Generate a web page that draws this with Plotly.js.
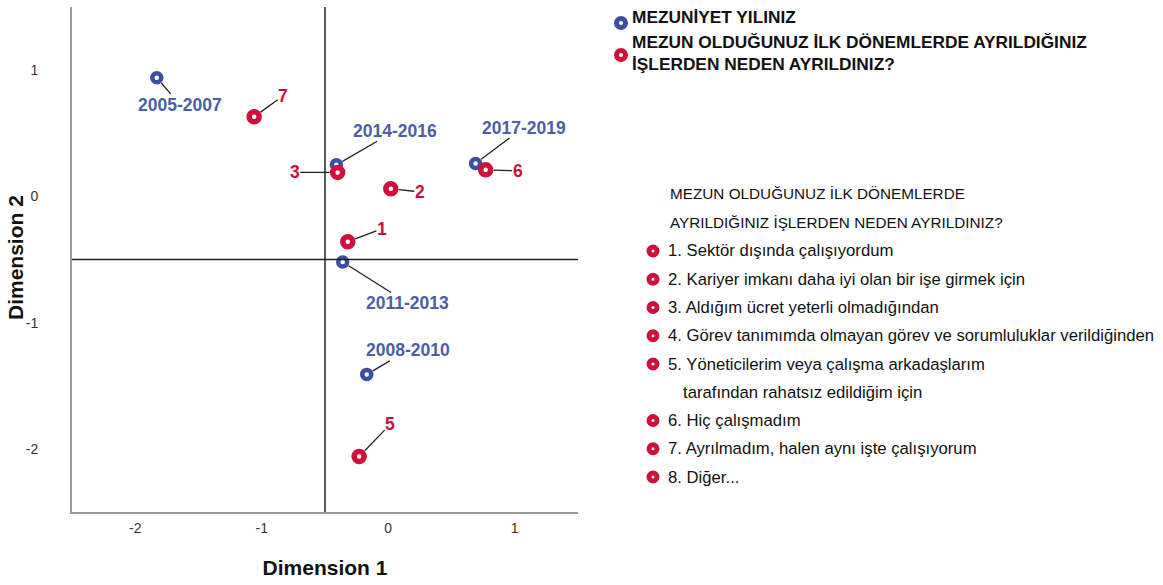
<!DOCTYPE html>
<html><head><meta charset="utf-8">
<script src="https://cdn.plot.ly/plotly-3.0.1.min.js"></script>
<style>html,body{margin:0;padding:0;background:#fff}#chart{width:1163px;height:585px}</style>
</head><body><div id="chart"></div>
<script>
// Blue series: graduation year groups
const yearLabels = ["2005-2007", "2014-2016", "2017-2019", "2011-2013", "2008-2010"];
const yearX = [-1.83, -0.41, 0.69, -0.36, -0.17];
const yearY = [0.94, 0.25, 0.26, -0.52, -1.41];
// Red series: reasons for leaving (categories 4 and 8 not plotted)
const reasonLabels = ["1", "2", "3", "5", "6", "7"];
const reasonX = [-0.32, 0.02, -0.40, -0.23, 0.77, -1.06];
const reasonY = [-0.36, 0.06, 0.19, -2.06, 0.21, 0.63];
// Label offsets (px) for leader lines
const yearOff = [[23, 27], [59, -34], [48, -36], [65, 41], [41, -24]];
const reasonOff = [[34, -13], [29, 3], [-43, 0], [31, -32], [32, 1], [29, -21]];

const tickVals = [-2, -1, 0, 1];
const tickText = ["-2", "-1", "0", "1"];

const seriesNames = ["MEZUNİYET YILINIZ", "MEZUN OLDUĞUNUZ İLK DÖNEMLERDE AYRILDIĞINIZ<br>İŞLERDEN NEDEN AYRILDINIZ?"];
const listTitle = ["MEZUN OLDUĞUNUZ İLK DÖNEMLERDE", "AYRILDIĞINIZ İŞLERDEN NEDEN AYRILDINIZ?"];
const listItems = [
  "1. Sektör dışında çalışıyordum",
  "2. Kariyer imkanı daha iyi olan bir işe girmek için",
  "3. Aldığım ücret yeterli olmadığından",
  "4. Görev tanımımda olmayan görev ve sorumluluklar verildiğinden",
  "5. Yöneticilerim veya çalışma arkadaşlarım",
  "6. Hiç çalışmadım",
  "7. Ayrılmadım, halen aynı işte çalışıyorum",
  "8. Diğer..."
];
const listItem5Cont = "tarafından rahatsız edildiğim için";
const listRows = [0, 1, 2, 3, 4, 6, 7, 8];

const BLUE = "#3d4fa2", RED = "#d0103c", BLUE_T = "#4a5fa5", RED_T = "#c8103a";
const FONT = "Liberation Sans, Arial, sans-serif";
const W = 1163, H = 585, L = 72, R = 10, T = 7, B = 73;
const PW = W - L - R, PH = H - T - B;
const plotW = 506;
const px = v => (v - L) / PW;
const py = v => (H - B - v) / PH;

const traces = [
  {x: yearX, y: yearY, type: "scatter", mode: "markers", name: seriesNames[0], showlegend: false,
   marker: {symbol: "circle", size: 9, color: "#fff", line: {color: BLUE, width: 4.5}}, hoverinfo: "skip"},
  {x: reasonX, y: reasonY, type: "scatter", mode: "markers", name: seriesNames[1], showlegend: false,
   marker: {symbol: "circle", size: 10, color: "#fff", line: {color: RED, width: 5.5}}, hoverinfo: "skip"},
  // list markers on hidden axes
  {x: listRows.map(() => 0), y: listRows, xaxis: "x2", yaxis: "y2", type: "scatter", mode: "markers", showlegend: false,
   marker: {symbol: "circle", size: 8, color: "#fff", line: {color: RED, width: 5}}, hoverinfo: "skip"},
  {x: [0, 0], y: [0, 1], xaxis: "x3", yaxis: "y3", type: "scatter", mode: "markers", showlegend: false,
   marker: {symbol: "circle", size: 9, color: "#fff", line: {color: [BLUE, RED], width: 5}}, hoverinfo: "skip"}
];

const annotations = [];
yearLabels.forEach((t, i) => annotations.push({x: yearX[i], y: yearY[i], text: t, showarrow: true, arrowhead: 0,
  arrowwidth: 1.3, arrowcolor: "#222", standoff: 7, ax: yearOff[i][0], ay: yearOff[i][1], borderpad: 0,
  font: {family: FONT, size: 17.5, color: BLUE_T, weight: "bold"}}));
reasonLabels.forEach((t, i) => annotations.push({x: reasonX[i], y: reasonY[i], text: t, showarrow: true, arrowhead: 0,
  arrowwidth: 1.3, arrowcolor: "#222", standoff: 8, ax: reasonOff[i][0], ay: reasonOff[i][1], borderpad: 0,
  font: {family: FONT, size: 17.5, color: RED_T, weight: "bold"}}));

// top legend texts
[[seriesNames[0], 17], [seriesNames[1], 53]].forEach(([t, y]) =>
  annotations.push({xref: "paper", yref: "paper", x: px(630), y: py(y), xanchor: "left", yanchor: "middle", showarrow: false,
    align: "left", text: t, font: {family: FONT, size: 17.3, color: "#111", weight: "bold"}}));

// list title
listTitle.forEach((t, i) => annotations.push({xref: "paper", yref: "paper", x: px(668), y: py(193 + 29 * i), xanchor: "left", yanchor: "middle",
  showarrow: false, text: t, font: {family: FONT, size: 15.3, color: "#111"}}));
// list items on x2/y2
listItems.forEach((t, i) => annotations.push({xref: "x2", yref: "y2", x: 0, y: listRows[i], xanchor: "left", yanchor: "middle",
  xshift: 13, showarrow: false, text: t, font: {family: FONT, size: 16.7, color: "#111"}}));
annotations.push({xref: "x2", yref: "y2", x: 0, y: 5, xanchor: "left", yanchor: "middle", xshift: 28, showarrow: false,
  text: listItem5Cont, font: {family: FONT, size: 16.7, color: "#111"}});

// y axis title placed precisely
annotations.push({xref: "paper", yref: "paper", x: px(15), y: py(258), xanchor: "center", yanchor: "middle", showarrow: false,
  textangle: -90, text: "Dimension 2", font: {family: FONT, size: 21, color: "#111", weight: "bold"}});

const layout = {
  width: W, height: H, margin: {l: L, r: R, t: T, b: B}, showlegend: false,
  paper_bgcolor: "#fff", plot_bgcolor: "#fff",
  font: {family: FONT, color: "#222"},
  xaxis: {domain: [0, plotW / PW], range: [-2.5, 1.5], tickvals: tickVals, ticktext: tickText, showgrid: false, zeroline: false,
    showline: true, linecolor: "#9a9a9a", linewidth: 2, ticks: "outside", ticklen: 2, tickcolor: "rgba(0,0,0,0)",
    tickfont: {size: 14, color: "#333"},
    title: {text: "Dimension 1", standoff: 26, font: {size: 21, color: "#111", weight: "bold"}}},
  yaxis: {domain: [0, 1], range: [-2.5, 1.5], tickvals: tickVals, ticktext: tickText, showgrid: false, zeroline: false,
    showline: true, linecolor: "#9a9a9a", linewidth: 2, ticks: "outside", ticklen: 29, tickcolor: "rgba(0,0,0,0)",
    tickfont: {size: 14, color: "#333"}},
  xaxis2: {domain: [px(653) - 0.05, px(653) + 0.05], range: [-1, 1], visible: false, fixedrange: true, anchor: "y2"},
  yaxis2: {domain: [py(477 + 14.15), py(251 - 14.15)], range: [8.5, -0.5], visible: false, fixedrange: true, anchor: "x2"},
  xaxis3: {domain: [px(621) - 0.05, px(621) + 0.05], range: [-1, 1], visible: false, fixedrange: true, anchor: "y3"},
  yaxis3: {domain: [py(53 + 18), py(17 - 18)], range: [1.5, -0.5], visible: false, fixedrange: true, anchor: "x3"},
  shapes: [
    {type: "line", xref: "x", yref: "paper", x0: -0.5, x1: -0.5, y0: 0, y1: 1, line: {color: "#222", width: 1.5}},
    {type: "line", xref: "paper", yref: "y", x0: 0, x1: plotW / PW, y0: -0.5, y1: -0.5, line: {color: "#222", width: 1.5}}
  ],
  annotations: annotations
};
Plotly.newPlot("chart", traces, layout, {staticPlot: true, displayModeBar: false});
</script></body></html>
